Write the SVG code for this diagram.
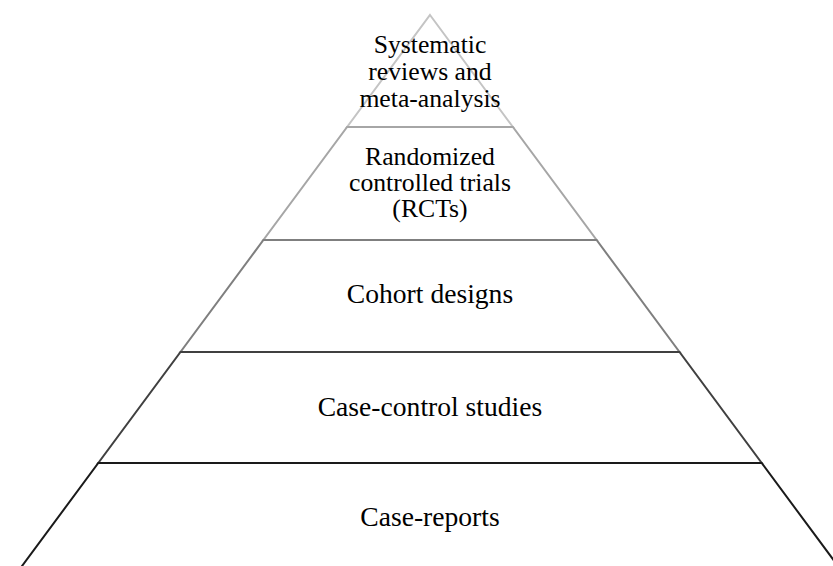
<svg xmlns="http://www.w3.org/2000/svg" width="833" height="566" viewBox="0 0 833 566">
<style>
.lvl{fill:#ffffff;stroke-width:2;stroke-linejoin:miter}
.t{font-family:"Liberation Serif","Times New Roman",serif;fill:#000000;text-anchor:middle}
.s1{font-size:25.7px}
.s2{font-size:27.6px}
</style>
<rect width="833" height="566" fill="#ffffff"/>
<g id="level1">
<polygon class="lvl" points="430,15 512.9,127 347.1,127" stroke="#c4c4c4"/>
<text class="t s1" x="430" y="53">Systematic</text>
<text class="t s1" x="430" y="80">reviews and</text>
<text class="t s1" x="430" y="106.5">meta-analysis</text>
</g>
<g id="level2">
<polygon class="lvl" points="347.1,127 512.9,127 596.6,240 263.4,240" stroke="#a6a6a6"/>
<text class="t s1" x="430" y="165">Randomized</text>
<text class="t s1" x="430" y="191">controlled trials</text>
<text class="t s1" x="430" y="216.5">(RCTs)</text>
</g>
<g id="level3">
<polygon class="lvl" points="263.4,240 596.6,240 679.5,352 180.5,352" stroke="#7f7f7f"/>
<text class="t s2" x="430" y="303">Cohort designs</text>
</g>
<g id="level4">
<polygon class="lvl" points="180.5,352 679.5,352 761.7,463 98.3,463" stroke="#404040"/>
<text class="t s2" x="430" y="416">Case-control studies</text>
</g>
<g id="level5">
<polygon class="lvl" points="98.3,463 761.7,463 838.7,567 21.3,567" stroke="#1a1a1a"/>
<text class="t s2" x="430" y="526">Case-reports</text>
</g>
<g id="connectors"></g>
</svg>
